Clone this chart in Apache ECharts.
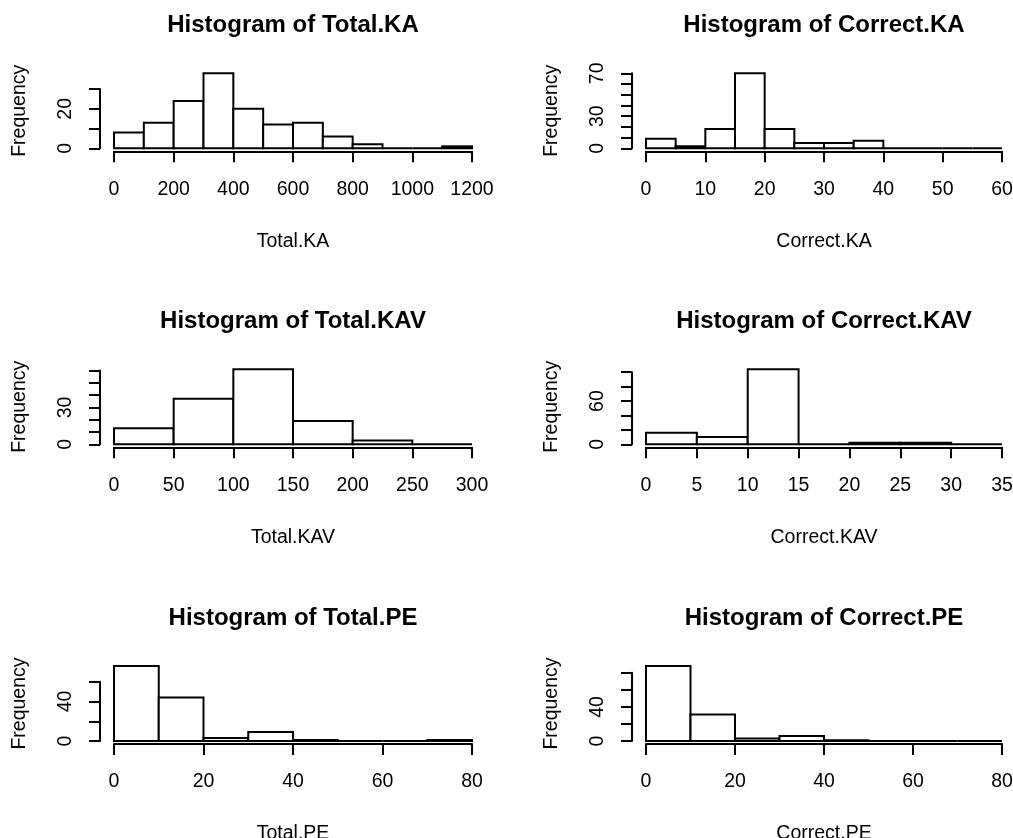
<!DOCTYPE html>
<html>
<head>
<meta charset="utf-8">
<title>Histograms</title>
<script src="https://cdn.jsdelivr.net/npm/echarts@6/dist/echarts.min.js"></script>
<style>
    html, body { margin: 0; padding: 0; background: #fff; }
    #J_main { width: 1013px; height: 838px; }
</style>
</head>
<body>
<div id="J_main"></div>
<script>
// counts per bin
const totalKA = [8, 13, 24, 38, 20, 12, 13, 6, 2, 0, 0, 1];
const correctKA = [9, 2, 18, 70, 18, 5, 5, 7, 0, 0, 0, 0];
const totalKAV = [13, 37, 61, 19, 3, 0];
const correctKAV = [16, 10, 104, 0, 2, 2, 0];
const totalPE = [76, 44, 3, 9, 1, 0, 0, 1];
const correctPE = [88, 31, 3, 6, 1, 0, 0, 0];

// bin widths (breaks start at 0)
const binWidths = [100, 5, 50, 5, 10, 10];
// x axis tick step / y axis tick step and top tick
const xSteps = [200, 10, 50, 5, 20, 20];
const yMaxTicks = [30, 70, 60, 100, 60, 80];
const ySteps = [10, 10, 10, 20, 20, 20];
// y tick labels that R actually printed
const yLabels = [[0, 20], [0, 30, 70], [0, 30], [0, 60], [0, 40], [0, 40]];

const varNames = ['Total.KA', 'Correct.KA', 'Total.KAV', 'Correct.KAV', 'Total.PE', 'Correct.PE'];
const allCounts = [totalKA, correctKA, totalKAV, correctKAV, totalPE, correctPE];

const FONT = 'Liberation Sans, Arial, sans-serif';
const FS = 19.5;
const COL_X = [[114, 472], [646, 1002]];
const ROW_Y0 = [148.3, 444.3, 741];
const PLOT_H = 81;

function makeBins(counts, w) {
    return counts.map((c, i) => [i * w, (i + 1) * w, c]);
}

function renderBar(params, api) {
    let p0 = api.coord([api.value(0), 0]);
    let p1 = api.coord([api.value(1), api.value(2)]);
    return {
        type: 'rect',
        shape: {
            x: p0[0],
            y: p1[1],
            width: p1[0] - p0[0],
            height: p0[1] - p1[1]
        },
        style: {
            fill: '#fff',
            stroke: '#000',
            lineWidth: 2
        }
    };
}

function buildOption() {
    let grid = [], xAxis = [], yAxis = [], series = [], graphic = [];

    allCounts.forEach((counts, i) => {
        let col = i % 2, row = Math.floor(i / 2);
        let x0 = COL_X[col][0], x1 = COL_X[col][1];
        let y0 = ROW_Y0[row];
        let maxCount = Math.max.apply(null, counts);
        let ppu = PLOT_H / (1.08 * maxCount);
        let gh = yMaxTicks[i] * ppu;
        let xMax = counts.length * binWidths[i];
        let shown = yLabels[i];

        grid.push({
            left: x0,
            top: y0 - gh,
            width: x1 - x0,
            height: gh,
            outerBoundsMode: 'none'
        });

        // R draws the axes a bit away from the data (4% range extension)
        xAxis.push({
            gridIndex: i,
            type: 'value',
            min: 0,
            max: xMax,
            interval: xSteps[i],
            offset: 3,
            name: varNames[i],
            nameLocation: 'middle',
            nameGap: 80,
            nameMoveOverlap: false,
            nameTextStyle: { color: '#000', fontSize: FS, fontFamily: FONT },
            axisLine: { show: true, onZero: false, lineStyle: { color: '#000', width: 2 } },
            axisTick: { show: true, length: 11, lineStyle: { color: '#000', width: 2 } },
            axisLabel: {
                margin: 28,
                color: '#000',
                fontSize: FS,
                fontFamily: FONT,
                formatter: function (v) { return String(v); }
            },
            splitLine: { show: false }
        });

        yAxis.push({
            gridIndex: i,
            type: 'value',
            min: 0,
            max: yMaxTicks[i],
            interval: ySteps[i],
            offset: 14,
            axisLine: { show: true, onZero: false, lineStyle: { color: '#000', width: 2 } },
            axisTick: { show: true, length: 11, lineStyle: { color: '#000', width: 2 } },
            axisLabel: {
                rotate: 90,
                margin: 24,
                color: '#000',
                fontSize: FS,
                fontFamily: FONT,
                formatter: function (v) {
                    return shown.indexOf(v) > -1 ? String(v) : '';
                }
            },
            splitLine: { show: false }
        });

        series.push({
            type: 'custom',
            xAxisIndex: i,
            yAxisIndex: i,
            clip: false,
            encode: { x: [0, 1], y: 2 },
            renderItem: renderBar,
            data: makeBins(counts, binWidths[i])
        });

        // title, centred on the plot region
        graphic.push({
            type: 'text',
            x: (x0 + x1) / 2,
            y: y0 - 123,
            style: {
                text: 'Histogram of ' + varNames[i],
                fill: '#000',
                font: 'bold 24px ' + FONT,
                textAlign: 'center',
                textVerticalAlign: 'middle'
            }
        });

        // y label sits on the middle of the whole plot region, not the axis
        graphic.push({
            type: 'text',
            x: x0 - 94,
            y: y0 - 37.5,
            rotation: Math.PI / 2,
            style: {
                text: 'Frequency',
                fill: '#000',
                font: FS + 'px ' + FONT,
                textAlign: 'center',
                textVerticalAlign: 'middle'
            }
        });
    });

    return {
        backgroundColor: '#fff',
        animation: false,
        grid: grid,
        xAxis: xAxis,
        yAxis: yAxis,
        series: series,
        graphic: graphic
    };
}

let chart = echarts.init(document.getElementById('J_main'));
chart.setOption(buildOption());
</script>
</body>
</html>
